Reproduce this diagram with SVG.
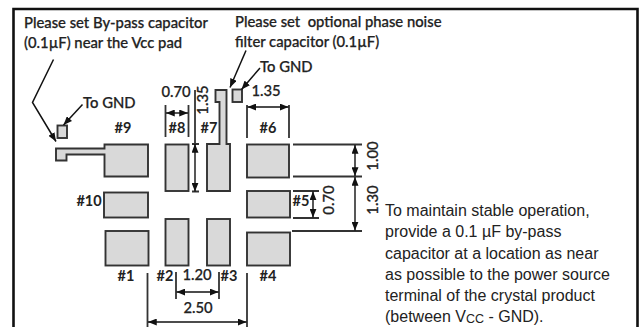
<svg xmlns="http://www.w3.org/2000/svg" width="642" height="327" viewBox="0 0 642 327">
<style>
.pad{fill:#d9d9d9;stroke:#333;stroke-width:1.9}
.t{font-family:Lato,"Open Sans",sans-serif;font-size:14.8px;fill:#222;font-weight:500;stroke:#222;stroke-width:.25}
.b{font-family:Lato,"Open Sans",sans-serif;font-size:14.5px;fill:#222;font-weight:700;text-anchor:middle}
.m{text-anchor:middle}
.r{font-family:"Liberation Sans",Arial,sans-serif;font-size:16px;fill:#222}
.ext{fill:none;stroke:#333;stroke-width:1.8}
.dim{fill:none;stroke:#111;stroke-width:1.4;marker-start:url(#a);marker-end:url(#a)}
.lead{fill:none;stroke:#111;stroke-width:1.5;marker-end:url(#a)}
</style>
<defs>
<marker id="a" viewBox="0 0 10 8" refX="10" refY="4" markerWidth="9" markerHeight="7" markerUnits="userSpaceOnUse" orient="auto-start-reverse"><path d="M0 0L10 4L0 8Z" fill="#111"/></marker>
</defs>
<rect width="642" height="327" fill="#fff"/>
<path id="frame" d="M13.5 330V9H637.5V330" fill="none" stroke="#111" stroke-width="2.6"/>
<g id="note-bypass"><text class="t" x="24" y="28">Please set By-pass capacitor</text><text class="t" x="24" y="48">(0.1µF) near the Vcc pad</text></g>
<g id="note-filter"><text class="t" x="235" y="27" xml:space="preserve">Please set  optional phase noise</text><text class="t" x="235" y="47">filter capacitor (0.1µF)</text></g>
<g id="cap-left"><rect class="pad" x="57.5" y="125.5" width="9.5" height="12.5"/><text class="t" x="83" y="108">To GND</text></g>
<g id="cap-right"><rect class="pad" x="232.5" y="89.5" width="9.5" height="12.5"/><text class="t" x="260" y="72">To GND</text></g>
<g id="pad-9"><path class="pad" d="M56 148.5H104.5V144.5H148V176.5H104.5V154.5H66.5V160.5H56Z"/><text class="b" x="123" y="133">#9</text></g>
<g id="pad-8"><rect class="pad" x="165.5" y="144.5" width="23" height="46.5"/><text class="b" x="177" y="133">#8</text></g>
<g id="pad-7"><path class="pad" d="M215.5 90H226.5V144H230V191H207V144H219.5V102H215.5Z"/><text class="b" x="209" y="133">#7</text></g>
<g id="pad-6"><rect class="pad" x="247" y="144.5" width="42" height="33"/><text class="b" x="268" y="133">#6</text></g>
<g id="pad-10"><rect class="pad" x="104" y="192.5" width="44" height="25"/><text class="b" x="89" y="206">#10</text></g>
<g id="pad-5"><rect class="pad" x="247" y="191" width="43" height="26.5"/><text class="b" x="301" y="206">#5</text></g>
<g id="pad-1"><rect class="pad" x="105.5" y="231" width="43" height="34.5"/><text class="b" x="126" y="281">#1</text></g>
<g id="pad-2"><rect class="pad" x="165.5" y="219" width="23" height="46.5"/><text class="b" x="165" y="281">#2</text></g>
<g id="pad-3"><rect class="pad" x="207" y="219" width="23" height="46.5"/><text class="b" x="229" y="281">#3</text></g>
<g id="pad-4"><rect class="pad" x="247" y="232.5" width="43" height="33"/><text class="b" x="268" y="281">#4</text></g>
<g id="connectors">
<path class="lead" d="M53.5 59.5L32.5 102.5L56 141.5"/>
<path class="lead" d="M82.5 104.5L63.5 125"/>
<path class="lead" d="M246 50.5L230 87.5"/>
<path class="lead" d="M260 68L241.5 89.5"/>
<path class="ext" d="M165.5 105V137M188.5 105V137M247 105V138M289 105V138"/>
<path class="dim" d="M166 113H188"/>
<path class="dim" d="M247.5 107H288.5"/>
<path class="ext" d="M195 90V144"/>
<path class="ext" d="M192 144H199M192 191.5H199"/>
<path class="dim" d="M195 144V191.5"/>
<path class="ext" d="M293 144.5H362M293 176.5H362M292 231H362"/>
<path class="dim" d="M355 145V176"/>
<path class="dim" d="M355 177V230.5"/>
<path class="ext" d="M293 191H319M293 218H319"/>
<path class="dim" d="M313 191.5V217.5"/>
<path class="ext" d="M176 272V299M219 272V299M147.5 273V327M247 273V327"/>
<path class="dim" d="M176.5 292H218.5"/>
<path class="dim" d="M148 322H246.5"/>
</g>
<g id="dimension-labels">
<text class="t m" x="176" y="97">0.70</text>
<text class="t m" x="266" y="96">1.35</text>
<text class="t m" transform="translate(208 100) rotate(-90)">1.35</text>
<text class="t m" transform="translate(378 156) rotate(-90)">1.00</text>
<text class="t m" transform="translate(378 200) rotate(-90)">1.30</text>
<text class="t m" transform="translate(334 200) rotate(-90)">0.70</text>
<text class="t m" x="197" y="280">1.20</text>
<text class="t m" x="198" y="313">2.50</text>
</g>
<g id="note-stable">
<text class="r" x="385" y="216">To maintain stable operation,</text>
<text class="r" x="385" y="237.3">provide a 0.1 µF by-pass</text>
<text class="r" x="385" y="258.6">capacitor at a location as near</text>
<text class="r" x="385" y="280">as possible to the power source</text>
<text class="r" x="385" y="301">terminal of the crystal product</text>
<text class="r" x="385" y="322">(between V<tspan font-size="12.5px" dy="1">CC</tspan><tspan dy="-1"> - GND).</tspan></text>
</g>
</svg>
